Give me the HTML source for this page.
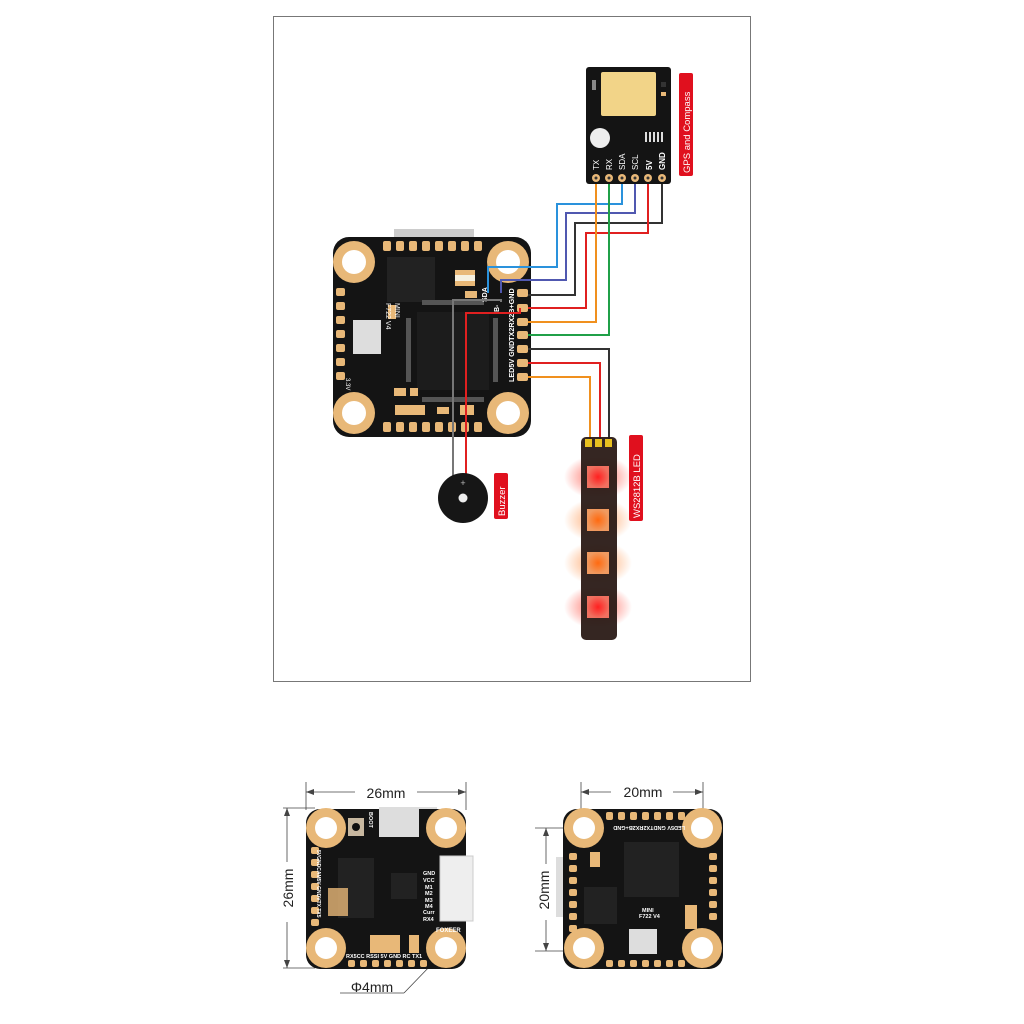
<!DOCTYPE html>
<html><head><meta charset="utf-8"><style>
html,body{margin:0;padding:0;background:#fff}
svg{display:block}
text{font-family:"Liberation Sans",sans-serif}
</style></head><body>
<svg width="1024" height="1024" viewBox="0 0 1024 1024" xmlns="http://www.w3.org/2000/svg">
<defs>
<radialGradient id="glowR"><stop offset="0" stop-color="#ff3020" stop-opacity="0.75"/><stop offset="1" stop-color="#ff3020" stop-opacity="0"/></radialGradient>
<radialGradient id="glowO"><stop offset="0" stop-color="#ff7a20" stop-opacity="0.7"/><stop offset="1" stop-color="#ff7a20" stop-opacity="0"/></radialGradient>
<radialGradient id="ledR"><stop offset="0" stop-color="#ff2020"/><stop offset="1" stop-color="#f07060"/></radialGradient>
<radialGradient id="ledO"><stop offset="0" stop-color="#ff6a10"/><stop offset="1" stop-color="#f09a60"/></radialGradient>
</defs>
<rect x="273.5" y="16.5" width="477" height="665" fill="#fff" stroke="#777" stroke-width="1"/>

<!-- MAIN BOARD -->
<rect x="394" y="229" width="80" height="12" fill="#ccc"/>
<rect x="333" y="237" width="198" height="200" rx="16" fill="#141414"/>
<g fill="#e8b878">
<circle cx="354" cy="262" r="21"/><circle cx="508" cy="262" r="21"/>
<circle cx="354" cy="413" r="21"/><circle cx="508" cy="413" r="21"/>
</g>
<g fill="#fff"><circle cx="354" cy="262" r="12"/><circle cx="508" cy="262" r="12"/><circle cx="354" cy="413" r="12"/><circle cx="508" cy="413" r="12"/></g>
<g fill="#e8b878">
<rect x="383" y="241" width="8" height="10" rx="2"/><rect x="396" y="241" width="8" height="10" rx="2"/><rect x="409" y="241" width="8" height="10" rx="2"/><rect x="422" y="241" width="8" height="10" rx="2"/><rect x="435" y="241" width="8" height="10" rx="2"/><rect x="448" y="241" width="8" height="10" rx="2"/><rect x="461" y="241" width="8" height="10" rx="2"/><rect x="474" y="241" width="8" height="10" rx="2"/>
<rect x="383" y="422" width="8" height="10" rx="2"/><rect x="396" y="422" width="8" height="10" rx="2"/><rect x="409" y="422" width="8" height="10" rx="2"/><rect x="422" y="422" width="8" height="10" rx="2"/><rect x="435" y="422" width="8" height="10" rx="2"/><rect x="448" y="422" width="8" height="10" rx="2"/><rect x="461" y="422" width="8" height="10" rx="2"/><rect x="474" y="422" width="8" height="10" rx="2"/>
<rect x="336" y="288" width="9" height="8" rx="2"/><rect x="336" y="302" width="9" height="8" rx="2"/><rect x="336" y="316" width="9" height="8" rx="2"/><rect x="336" y="330" width="9" height="8" rx="2"/><rect x="336" y="344" width="9" height="8" rx="2"/><rect x="336" y="358" width="9" height="8" rx="2"/><rect x="336" y="372" width="9" height="8" rx="2"/>
<rect x="517" y="289" width="11" height="8" rx="2"/><rect x="517" y="304" width="11" height="8" rx="2"/><rect x="517" y="318" width="11" height="8" rx="2"/><rect x="517" y="331" width="11" height="8" rx="2"/><rect x="517" y="345" width="11" height="8" rx="2"/><rect x="517" y="359" width="11" height="8" rx="2"/><rect x="517" y="373" width="11" height="8" rx="2"/>
</g>
<rect x="387" y="257" width="48" height="45" fill="#222"/>
<rect x="417" y="312" width="72" height="78" fill="#1c1c1c"/>
<rect x="422" y="300" width="62" height="5" fill="#555"/>
<rect x="422" y="397" width="62" height="5" fill="#555"/>
<rect x="406" y="318" width="5" height="64" fill="#555"/>
<rect x="493" y="318" width="5" height="64" fill="#555"/>
<rect x="353" y="320" width="28" height="34" fill="#ddd"/>
<rect x="455" y="270" width="20" height="16" fill="#e8b878"/><rect x="455" y="275" width="20" height="6" fill="#f5f0e0"/>
<rect x="388" y="305" width="8" height="14" fill="#e8b878"/>
<rect x="394" y="388" width="12" height="8" fill="#e8b878"/><rect x="410" y="388" width="8" height="8" fill="#e8b878"/>
<rect x="395" y="405" width="30" height="10" fill="#e8b878"/><rect x="437" y="407" width="12" height="7" fill="#e8b878"/><rect x="460" y="405" width="14" height="10" fill="#e8b878"/>
<rect x="465" y="291" width="12" height="7" fill="#e8b878"/>
<text transform="translate(395,303) rotate(90)" font-size="7" fill="#fff">MINI</text>
<text transform="translate(386,303) rotate(90)" font-size="7" fill="#fff">F722 V4</text>
<text transform="translate(346,378) rotate(90)" font-size="6" fill="#fff">3.3V</text>
<text transform="translate(487,302) rotate(-90)" font-size="7" fill="#fff" font-weight="bold">SDA</text>
<text transform="translate(514,382) rotate(-90)" font-size="7.2" fill="#fff" font-weight="bold">LED5V GNDTX2RX2B+GND</text>
<text transform="translate(499,312) rotate(-90)" font-size="7" fill="#fff" font-weight="bold">B-</text>

<!-- WIRES -->
<g fill="none" stroke-width="2">
<polyline points="622,180 622,204 557,204 557,267 488,267 488,293" stroke="#2a92dc"/>
<polyline points="635,180 635,213 566,213 566,280 501,280 501,293" stroke="#5058b0"/>
<polyline points="662,180 662,223 575,223 575,295 528,295" stroke="#333"/>
<polyline points="648,180 648,233 586,233 586,308 528,308" stroke="#e02020"/>
<polyline points="596,180 596,322 528,322" stroke="#f0901e"/>
<polyline points="609,180 609,335 528,335" stroke="#20a048"/>
<polyline points="528,349 609,349 609,440" stroke="#333"/>
<polyline points="528,363 600,363 600,440" stroke="#e02020"/>
<polyline points="528,377 590,377 590,440" stroke="#f0901e"/>
<polyline points="501,302 501,300 453,300 453,478" stroke="#777"/>
<polyline points="520,308 520,313 466,313 466,478" stroke="#e02020"/>
</g>

<!-- GPS -->
<rect x="586" y="67" width="85" height="117" rx="3" fill="#141414"/>
<rect x="601" y="72" width="55" height="44" rx="2" fill="#f2d488"/>
<circle cx="600" cy="138" r="10" fill="#eee"/>
<g fill="#ddd"><rect x="645" y="132" width="2" height="10"/><rect x="649" y="132" width="2" height="10"/><rect x="653" y="132" width="2" height="10"/><rect x="657" y="132" width="2" height="10"/><rect x="661" y="132" width="2" height="10"/></g>
<rect x="592" y="80" width="4" height="10" fill="#888"/><rect x="661" y="82" width="5" height="5" fill="#333"/><rect x="661" y="92" width="5" height="4" fill="#e8b878"/>
<g font-size="8" fill="#fff">
<text transform="translate(599,170) rotate(-90)">TX</text>
<text transform="translate(612,170) rotate(-90)">RX</text>
<text transform="translate(625,170) rotate(-90)">SDA</text>
<text transform="translate(638,170) rotate(-90)">SCL</text>
<text transform="translate(652,170) rotate(-90)" font-weight="bold">5V</text>
<text transform="translate(665,170) rotate(-90)" font-weight="bold">GND</text>
</g>
<g fill="#e8b878"><circle cx="596" cy="178" r="4"/><circle cx="609" cy="178" r="4"/><circle cx="622" cy="178" r="4"/><circle cx="635" cy="178" r="4"/><circle cx="648" cy="178" r="4"/><circle cx="662" cy="178" r="4"/></g>
<g fill="#333"><circle cx="596" cy="178" r="1.5"/><circle cx="609" cy="178" r="1.5"/><circle cx="622" cy="178" r="1.5"/><circle cx="635" cy="178" r="1.5"/><circle cx="648" cy="178" r="1.5"/><circle cx="662" cy="178" r="1.5"/></g>
<rect x="679" y="73" width="14" height="103" rx="2" fill="#e0101e"/>
<text transform="translate(690,173) rotate(-90)" font-size="9.5" fill="#fff">GPS and Compass</text>

<!-- BUZZER -->
<circle cx="463" cy="498" r="25" fill="#161616"/>
<circle cx="463" cy="498" r="4.5" fill="#eee"/>
<text x="463" y="486" font-size="9" fill="#bbb" text-anchor="middle">+</text>
<rect x="494" y="473" width="14" height="46" rx="2" fill="#e0101e"/>
<text transform="translate(505,516) rotate(-90)" font-size="9.5" fill="#fff">Buzzer</text>

<!-- LED STRIP -->
<g>
<ellipse cx="598" cy="477" rx="34" ry="22" fill="url(#glowR)"/>
<ellipse cx="598" cy="520" rx="34" ry="22" fill="url(#glowO)"/>
<ellipse cx="598" cy="563" rx="34" ry="22" fill="url(#glowO)"/>
<ellipse cx="598" cy="607" rx="34" ry="22" fill="url(#glowR)"/>
</g>
<rect x="581" y="437" width="36" height="203" rx="5" fill="#2a1a16" opacity="0.95"/>
<rect x="585" y="439" width="7" height="8" fill="#e8c020"/><rect x="595" y="439" width="7" height="8" fill="#e8c020"/><rect x="605" y="439" width="7" height="8" fill="#e8c020"/>
<rect x="587" y="466" width="22" height="22" fill="url(#ledR)"/>
<rect x="587" y="509" width="22" height="22" fill="url(#ledO)"/>
<rect x="587" y="552" width="22" height="22" fill="url(#ledO)"/>
<rect x="587" y="596" width="22" height="22" fill="url(#ledR)"/>
<rect x="629" y="435" width="14" height="86" rx="2" fill="#e0101e"/>
<text transform="translate(640,518) rotate(-90)" font-size="9.5" fill="#fff">WS2812B LED</text>

<!-- BOTTOM LEFT BOARD -->
<g stroke="#444" stroke-width="0.8" fill="none">
<line x1="306" y1="782" x2="306" y2="810"/><line x1="466" y1="782" x2="466" y2="810"/>
<line x1="306" y1="792" x2="355" y2="792"/><line x1="417" y1="792" x2="466" y2="792"/>
<line x1="283" y1="808" x2="315" y2="808"/><line x1="283" y1="968" x2="315" y2="968"/>
<line x1="287" y1="808" x2="287" y2="862"/><line x1="287" y1="922" x2="287" y2="968"/>
<line x1="340" y1="993" x2="404" y2="993"/><line x1="404" y1="993" x2="460" y2="935"/>
</g>
<g fill="#444"><polygon points="306,792 314,789 314,795"/><polygon points="466,792 458,789 458,795"/><polygon points="287,808 284,816 290,816"/><polygon points="287,968 284,960 290,960"/></g>
<text x="386" y="798" font-size="14" fill="#222" text-anchor="middle">26mm</text>
<text transform="translate(293,888) rotate(-90)" font-size="14" fill="#222" text-anchor="middle">26mm</text>
<text x="372" y="992" font-size="14" fill="#222" text-anchor="middle">Φ4mm</text>
<rect x="397" y="807" width="40" height="30" fill="#ddd"/>
<rect x="440" y="856" width="33" height="65" fill="#eee" stroke="#ccc"/>
<rect x="306" y="809" width="160" height="160" rx="14" fill="#141414"/>
<g fill="#e8b878"><circle cx="326" cy="828" r="20"/><circle cx="446" cy="828" r="20"/><circle cx="326" cy="948" r="20"/><circle cx="446" cy="948" r="20"/></g>
<g fill="#fff"><circle cx="326" cy="828" r="11"/><circle cx="446" cy="828" r="11"/><circle cx="326" cy="948" r="11"/><circle cx="446" cy="948" r="11"/></g>
<rect x="379" y="807" width="40" height="30" fill="#ddd"/>
<rect x="348" y="818" width="16" height="18" fill="#c8b8a0"/><circle cx="356" cy="827" r="4" fill="#111"/>
<rect x="338" y="858" width="36" height="60" fill="#222"/>
<rect x="391" y="873" width="26" height="26" fill="#222"/>
<rect x="440" y="856" width="33" height="65" fill="#eee" stroke="#ccc"/>
<g fill="#e8b878"><rect x="370" y="935" width="30" height="18"/><rect x="409" y="935" width="10" height="18"/><rect x="328" y="888" width="20" height="28" opacity="0.8"/></g>
<g fill="#e8b878">
<rect x="311" y="883" width="8" height="7" rx="2"/><rect x="311" y="895" width="8" height="7" rx="2"/><rect x="311" y="907" width="8" height="7" rx="2"/><rect x="311" y="919" width="8" height="7" rx="2"/><rect x="311" y="871" width="8" height="7" rx="2"/><rect x="311" y="859" width="8" height="7" rx="2"/><rect x="311" y="847" width="8" height="7" rx="2"/>
<rect x="348" y="960" width="7" height="7" rx="2"/><rect x="360" y="960" width="7" height="7" rx="2"/><rect x="372" y="960" width="7" height="7" rx="2"/><rect x="384" y="960" width="7" height="7" rx="2"/><rect x="396" y="960" width="7" height="7" rx="2"/><rect x="408" y="960" width="7" height="7" rx="2"/><rect x="420" y="960" width="7" height="7" rx="2"/>
</g>
<g font-size="5.5" fill="#fff" font-weight="bold">
<text x="423" y="875">GND</text><text x="423" y="882">VCC</text><text x="425" y="889">M1</text><text x="425" y="895">M2</text><text x="425" y="902">M3</text><text x="425" y="908">M4</text><text x="423" y="914">Curr</text><text x="423" y="921">RX4</text>
<text x="436" y="932" font-size="6">FOXEER</text>
<text x="346" y="958">RX5CC RSSI 5V GND RC TX1</text>
<text transform="translate(369,812) rotate(90)">BOOT</text>
<text transform="translate(317,850) rotate(90)" font-size="5">5VGNDCAM5V GNDVTX TX5</text>
</g>

<!-- BOTTOM RIGHT BOARD -->
<g stroke="#444" stroke-width="0.8" fill="none">
<line x1="581" y1="782" x2="581" y2="830"/><line x1="703" y1="782" x2="703" y2="830"/>
<line x1="581" y1="792" x2="611" y2="792"/><line x1="673" y1="792" x2="703" y2="792"/>
<line x1="535" y1="828" x2="581" y2="828"/><line x1="535" y1="951" x2="584" y2="951"/>
<line x1="546" y1="828" x2="546" y2="864"/><line x1="546" y1="920" x2="546" y2="951"/>
</g>
<g fill="#444"><polygon points="581,792 589,789 589,795"/><polygon points="703,792 695,789 695,795"/><polygon points="546,828 543,836 549,836"/><polygon points="546,951 543,943 549,943"/></g>
<text x="643" y="797" font-size="14" fill="#222" text-anchor="middle">20mm</text>
<text transform="translate(549,890) rotate(-90)" font-size="14" fill="#222" text-anchor="middle">20mm</text>
<rect x="556" y="857" width="10" height="60" fill="#ddd"/>
<rect x="563" y="809" width="160" height="160" rx="14" fill="#141414"/>
<g fill="#e8b878"><circle cx="584" cy="828" r="20"/><circle cx="702" cy="828" r="20"/><circle cx="584" cy="948" r="20"/><circle cx="702" cy="948" r="20"/></g>
<g fill="#fff"><circle cx="584" cy="828" r="11"/><circle cx="702" cy="828" r="11"/><circle cx="584" cy="948" r="11"/><circle cx="702" cy="948" r="11"/></g>
<rect x="624" y="842" width="55" height="55" fill="#222"/>
<rect x="584" y="887" width="33" height="37" fill="#222"/>
<rect x="629" y="929" width="28" height="25" fill="#ddd"/>
<g fill="#e8b878">
<rect x="569" y="853" width="8" height="7" rx="2"/><rect x="569" y="865" width="8" height="7" rx="2"/><rect x="569" y="877" width="8" height="7" rx="2"/><rect x="569" y="889" width="8" height="7" rx="2"/><rect x="569" y="901" width="8" height="7" rx="2"/><rect x="569" y="913" width="8" height="7" rx="2"/><rect x="569" y="925" width="8" height="7" rx="2"/>
<rect x="709" y="853" width="8" height="7" rx="2"/><rect x="709" y="865" width="8" height="7" rx="2"/><rect x="709" y="877" width="8" height="7" rx="2"/><rect x="709" y="889" width="8" height="7" rx="2"/><rect x="709" y="901" width="8" height="7" rx="2"/><rect x="709" y="913" width="8" height="7" rx="2"/>
<rect x="606" y="812" width="7" height="8" rx="2"/><rect x="618" y="812" width="7" height="8" rx="2"/><rect x="630" y="812" width="7" height="8" rx="2"/><rect x="642" y="812" width="7" height="8" rx="2"/><rect x="654" y="812" width="7" height="8" rx="2"/><rect x="666" y="812" width="7" height="8" rx="2"/><rect x="678" y="812" width="7" height="8" rx="2"/>
<rect x="606" y="960" width="7" height="7" rx="2"/><rect x="618" y="960" width="7" height="7" rx="2"/><rect x="630" y="960" width="7" height="7" rx="2"/><rect x="642" y="960" width="7" height="7" rx="2"/><rect x="654" y="960" width="7" height="7" rx="2"/><rect x="666" y="960" width="7" height="7" rx="2"/><rect x="678" y="960" width="7" height="7" rx="2"/>
<rect x="590" y="852" width="10" height="15"/><rect x="685" y="905" width="12" height="24"/>
</g>
<g font-size="5.5" fill="#fff" font-weight="bold">
<text transform="translate(685,826) rotate(180)">LED5V GNDTX2RX2B+GND</text>
<text x="642" y="912">MINI</text><text x="639" y="918">F722 V4</text>
</g>
</svg>
</body></html>
